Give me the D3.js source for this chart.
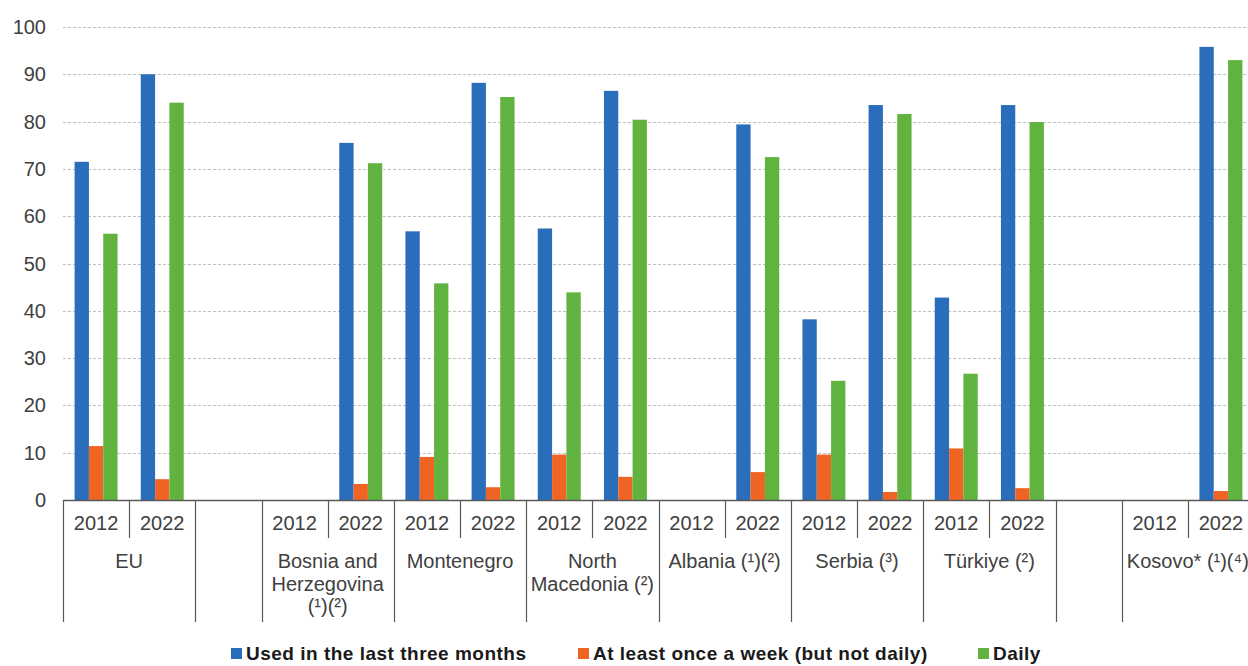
<!DOCTYPE html>
<html>
<head>
<meta charset="utf-8">
<script src="https://cdn.jsdelivr.net/npm/d3@7"></script>
<style>
  body { margin: 0; background: #fff; }
  svg { display: block; font-family: "Liberation Sans", Arial, sans-serif; }
</style>
</head>
<body>
<svg id="chart" width="1248" height="666"></svg>
<script>
// group labels along the x axis; empty string = blank spacer slot
const groupLabels = ['EU', '', 'Bosnia and\nHerzegovina\n(¹)(²)', 'Montenegro', 'North\nMacedonia (²)',
  'Albania (¹)(²)', 'Serbia (³)', 'Türkiye (²)', '', 'Kosovo* (¹)(⁴)'];
const years = ['2012', '2022'];

// one value per country/year pair, in order (null = no data)
const usedLast3Months = [71.5, 90.0, null, 75.5, 56.8, 88.2, 57.4, 86.5, null, 79.4, 38.2, 83.5, 42.8, 83.5, null, 95.8];
const weeklyNotDaily = [11.4, 4.4, null, 3.4, 9.1, 2.7, 9.6, 4.9, null, 5.9, 9.6, 1.7, 10.9, 2.5, null, 1.9];
const daily = [56.3, 84.0, null, 71.2, 45.8, 85.2, 43.9, 80.4, null, 72.5, 25.2, 81.6, 26.7, 79.9, null, 93.0];

const seriesNames = ['Used in the last three months', 'At least once a week (but not daily)', 'Daily'];
const seriesColors = ['#2a6ebb', '#f06423', '#61b33f'];
const yTicks = [0, 10, 20, 30, 40, 50, 60, 70, 80, 90, 100];

const svg = d3.select('#chart');
const plotLeft = 63, plotRight = 1254, plotTop = 27, plotBottom = 500;
const textColor = '#404040';
const lineColor = '#595959';

// build slots
const slots = [];
let k = 0;
groupLabels.forEach((g, gi) => {
  if (g === '') {
    slots.push({ key: 'gap' + gi, group: gi, year: '', idx: -1 });
  } else {
    years.forEach(yr => {
      slots.push({ key: gi + '-' + yr, group: gi, year: yr, idx: k });
      k += 1;
    });
  }
});

const x = d3.scaleBand().domain(slots.map(s => s.key)).range([plotLeft, plotRight]);
const xs = d3.scaleBand().domain(d3.range(3)).range([0, x.bandwidth()]).paddingOuter(0.81);
const y = d3.scaleLinear().domain([0, 100]).range([plotBottom, plotTop]);

// gridlines
svg.append('g')
  .selectAll('line')
  .data(yTicks.filter(t => t > 0))
  .join('line')
  .attr('x1', plotLeft).attr('x2', plotRight)
  .attr('y1', d => Math.round(y(d)) + 0.5).attr('y2', d => Math.round(y(d)) + 0.5)
  .attr('stroke', '#c0c0c0')
  .attr('stroke-dasharray', '3,2');

// y axis labels
svg.append('g')
  .selectAll('text')
  .data(yTicks)
  .join('text')
  .attr('x', 46)
  .attr('y', d => y(d))
  .attr('dy', '0.35em')
  .attr('text-anchor', 'end')
  .attr('font-size', 20)
  .attr('fill', textColor)
  .text(d => d);

// bars
const series = [usedLast3Months, weeklyNotDaily, daily];
const barData = [];
slots.forEach(s => {
  if (s.idx < 0) return;
  series.forEach((vals, si) => {
    const v = vals[s.idx];
    if (v != null) barData.push({ key: s.key, si, v });
  });
});

svg.append('g')
  .selectAll('rect')
  .data(barData)
  .join('rect')
  .attr('x', d => x(d.key) + xs(d.si))
  .attr('width', xs.bandwidth())
  .attr('y', d => y(d.v))
  .attr('height', d => plotBottom - y(d.v))
  .attr('fill', d => seriesColors[d.si]);

// x axis baseline
svg.append('line')
  .attr('x1', plotLeft).attr('x2', plotRight)
  .attr('y1', plotBottom + 0.5).attr('y2', plotBottom + 0.5)
  .attr('stroke', lineColor).attr('stroke-width', 1.5);

// year labels and dividers
const axisG = svg.append('g');
axisG.selectAll('text.year')
  .data(slots.filter(s => s.year))
  .join('text')
  .attr('class', 'year')
  .attr('x', d => x(d.key) + x.bandwidth() / 2)
  .attr('y', 530)
  .attr('text-anchor', 'middle')
  .attr('font-size', 20)
  .attr('fill', textColor)
  .text(d => d.year);

axisG.selectAll('line.ydiv')
  .data(slots.filter(s => s.year === years[1]))
  .join('line')
  .attr('class', 'ydiv')
  .attr('x1', d => Math.round(x(d.key)) + 0.5).attr('x2', d => Math.round(x(d.key)) + 0.5)
  .attr('y1', plotBottom).attr('y2', 538)
  .attr('stroke', lineColor).attr('stroke-width', 1.2);

// group boundaries
const groupSpans = [];
groupLabels.forEach((g, gi) => {
  const gs = slots.filter(s => s.group === gi);
  groupSpans.push({
    gi, label: g,
    x0: x(gs[0].key),
    x1: x(gs[gs.length - 1].key) + x.bandwidth()
  });
});
const bounds = groupSpans.map(d => d.x0).concat([plotRight]);

axisG.selectAll('line.gdiv')
  .data(bounds)
  .join('line')
  .attr('class', 'gdiv')
  .attr('x1', d => Math.round(d) + 0.5).attr('x2', d => Math.round(d) + 0.5)
  .attr('y1', plotBottom).attr('y2', 622)
  .attr('stroke', lineColor).attr('stroke-width', 1.2);

// group labels
const gl = axisG.selectAll('text.group')
  .data(groupSpans.filter(d => d.label))
  .join('text')
  .attr('class', 'group')
  .attr('text-anchor', 'middle')
  .attr('font-size', 20)
  .attr('fill', textColor);
gl.each(function(d) {
  const lines = d.label.split('\n');
  d3.select(this).selectAll('tspan')
    .data(lines)
    .join('tspan')
    .attr('x', (d.x0 + d.x1) / 2)
    .attr('y', (l, i) => 568 + i * 22.5)
    .text(l => l);
});

// legend
const legendX = [231, 578, 978];
const legend = svg.append('g')
  .selectAll('g')
  .data(seriesNames)
  .join('g')
  .attr('transform', (d, i) => `translate(${legendX[i]},648)`);
legend.append('rect')
  .attr('width', 11).attr('height', 11)
  .attr('fill', (d, i) => seriesColors[i]);
legend.append('text')
  .attr('x', 15)
  .attr('y', 12)
  .attr('font-size', 19)
  .attr('font-weight', 'bold')
  .attr('letter-spacing', 0.5)
  .attr('fill', '#1a1a1a')
  .text(d => d);
</script>
</body>
</html>
